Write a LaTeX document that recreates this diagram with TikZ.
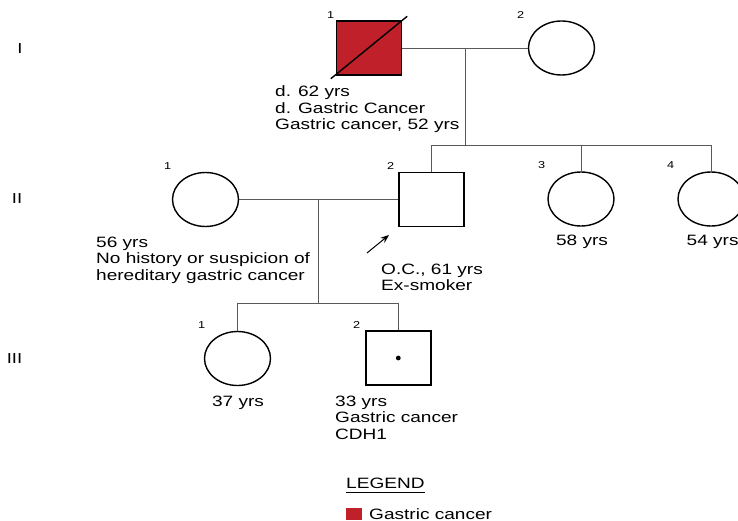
\documentclass[tikz,border=0pt]{standalone}
\usepackage{fontspec}
\setmainfont{Liberation Sans}[FakeStretch=1.27]
\usetikzlibrary{shapes.geometric,arrows.meta,calc}
\definecolor{gcred}{HTML}{C0202A}
\begin{document}
\begin{tikzpicture}[x=1pt,y=-1pt,
  male/.style={rectangle,draw=black,line width=1.4pt,minimum width=65pt,minimum height=54pt,inner sep=0pt},
  female/.style={ellipse,draw=black,line width=1.4pt,minimum width=66pt,minimum height=54pt,inner sep=0pt},
  link/.style={draw=black!65,line width=0.9pt},
  lbl/.style={font=\fontsize{15}{16.5}\selectfont,align=left,inner sep=0pt,anchor=base west},
  num/.style={font=\fontsize{10}{11}\selectfont,inner sep=0pt,anchor=base west},
  gen/.style={font=\fontsize{14.5}{15}\selectfont,inner sep=0pt}]
\useasboundingbox (0,0) rectangle (738,521);
% generation labels
\node[gen] (gI) at (20,48.5) {I};
\node[gen] (gII) at (17,199) {II};
\node[gen] (gIII) at (14.5,359) {III};
% generation I
\node[male,fill=gcred] (I1) at (369,48) {};
\node[female] (I2) at (561.5,48) {};
\draw[line width=1.4pt] ($(I1.south west)+(-5,3)$) -- ($(I1.north east)+(5,-4)$);
\node[num] (nI1) at (327,18.3) {1};
\node[num] (nI2) at (517,18.3) {2};
\node[lbl] (tI1) at (275,130) {d. 62 yrs\\d. Gastric Cancer\\Gastric cancer, 52 yrs};
% generation II
\node[female] (II1) at (205.5,199.5) {};
\node[male] (II2) at (431.5,199.5) {};
\node[female] (II3) at (581,199) {};
\node[female] (II4) at (711,199) {};
\node[num] (nII1) at (164,170) {1};
\node[num] (nII2) at (387,170) {2};
\node[num] (nII3) at (538,169) {3};
\node[num] (nII4) at (667,169) {4};
\node[lbl] (tII1) at (96,280) {56 yrs\\No history or suspicion of\\hereditary gastric cancer};
\node[lbl] (tII2) at (381,290.5) {O.C., 61 yrs\\Ex-smoker};
\node[lbl,anchor=base] (tII3) at (582,246) {58 yrs};
\node[lbl] (tII4) at (686.5,246) {54 yrs};
% generation III
\node[female] (III1) at (237.5,358.5) {};
\node[male] (III2) at (398.3,358) {};
\fill (III2.center) circle (2.4);
\node[num] (nIII1) at (198,328) {1};
\node[num] (nIII2) at (353,328) {2};
\node[lbl,anchor=base] (tIII1) at (238,406) {37 yrs};
\node[lbl] (tIII2) at (335,439) {33 yrs\\Gastric cancer\\CDH1};
% connectors
\coordinate (mI) at (465.7,48);
\coordinate (sI) at (465.7,145);
\draw[link] (I1.east) -- (I2.west);
\draw[link] (mI) -- (sI);
\draw[link] (II2.north) |- (sI);
\draw[link] (sI) -| (II4.north);
\draw[link] (II3.north) -- (II3.north |- sI);
\coordinate (mII) at (318,199.5);
\coordinate (sII) at (318,303);
\draw[link] (II1.east) -- (II2.west);
\draw[link] (mII) -- (sII);
\draw[link] (III1.north) |- (sII);
\draw[link] (sII) -| (III2.north);
% proband arrow
\coordinate (pa) at (367,253);
\coordinate (pb) at (389,235);
\draw[line width=1pt,-{Stealth[length=8.5pt,width=6.5pt]}] (pa) -- (pb);
% legend
\node[lbl] (leg) at (346,488) {LEGEND};
\draw[line width=0.9pt] (leg.base west) ++(0,4) -- ++(79,0);
\node[rectangle,fill=gcred,minimum width=15.7pt,minimum height=12.5pt,inner sep=0pt,anchor=north west] (legsq) at (346,507.7) {};
\node[lbl] (legt) at (369,519) {Gastric cancer};
\end{tikzpicture}
\end{document}
